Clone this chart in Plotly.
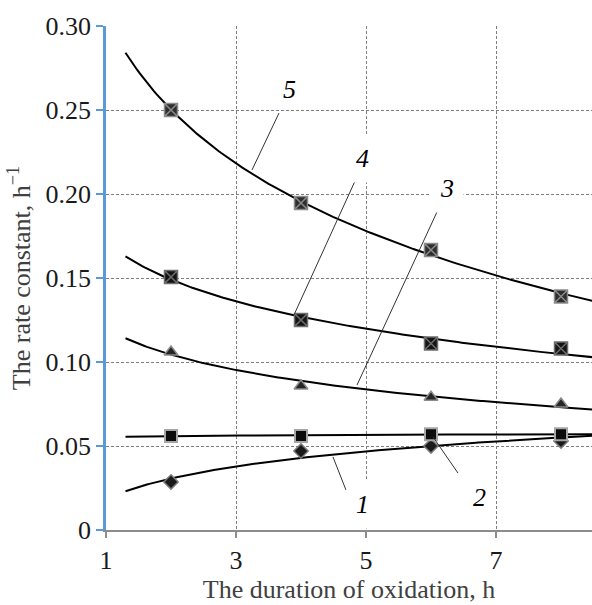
import numpy as np
import plotly.graph_objects as go

# ---- data ----
hours = [2, 4, 6, 8]
k_series1 = [0.0286, 0.0470, 0.0500, 0.0530]
k_series2 = [0.0560, 0.0560, 0.0570, 0.0570]
k_series3 = [0.1060, 0.0857, 0.0790, 0.0750]
k_series4 = [0.1506, 0.1250, 0.1110, 0.1080]
k_series5 = [0.2500, 0.1946, 0.1667, 0.1390]
series_names = ["1", "2", "3", "4", "5"]

x_tick_vals = [1, 3, 5, 7]
y_tick_vals = [0, 0.05, 0.10, 0.15, 0.20, 0.25, 0.30]
y_tick_text = ["0", "0.05", "0.10", "0.15", "0.20", "0.25", "0.30"]

# curve labels (label position, leader start, leader end) in data units
label_pos = {"5": (3.83, 0.262), "4": (4.95, 0.2214), "3": (6.25, 0.203),
             "1": (4.95, 0.0149), "2": (6.75, 0.0196)}
leader = {"5": ((3.662, 0.2482), (3.246, 0.2143)),
          "4": ((4.831, 0.2077), (3.892, 0.1280)),
          "3": ((6.092, 0.1893), (4.862, 0.0863)),
          "1": ((4.692, 0.0238), (4.492, 0.0435)),
          "2": ((6.415, 0.0339), (6.031, 0.0554))}

all_series = [k_series1, k_series2, k_series3, k_series4, k_series5]

styles = [
    dict(symbol="diamond", size=11, color="#1a1a1a", line=dict(color="#7a7a7a", width=1.5)),
    dict(symbol="square", size=12, color="#0d0d0d", line=dict(color="#a6a6a6", width=2)),
    dict(symbol="triangle-up", size=12, color="#262626", line=dict(color="#8c8c8c", width=1.5)),
    dict(symbol="square-x", size=13, color="#141414", line=dict(color="#6e6e6e", width=1.5)),
    dict(symbol="square-x", size=13, color="#2e2e2e", line=dict(color="#8c8c8c", width=1.5)),
]

FONT = "Liberation Serif"
fig = go.Figure()

# logarithmic trend lines (least-squares fit, as in the source)
x_fit = np.linspace(1.3, 8.6, 200)
for ys in all_series:
    b, a = np.polyfit(np.log(hours), ys, 1)
    fig.add_trace(go.Scatter(x=x_fit, y=a + b * np.log(x_fit), mode="lines",
                             line=dict(color="black", width=2), hoverinfo="skip"))

for ys, st, nm in zip(all_series, styles, series_names):
    fig.add_trace(go.Scatter(x=hours, y=ys, mode="markers", name=nm, marker=st))

for nm, ((x0, y0), (x1, y1)) in leader.items():
    fig.add_shape(type="line", x0=x0, y0=y0, x1=x1, y1=y1, xref="x", yref="y",
                  line=dict(color="#333333", width=1))

for nm, (lx, ly) in label_pos.items():
    fig.add_annotation(x=lx, y=ly, xref="x", yref="y", text=f"<i>{nm}</i>",
                       showarrow=False, font=dict(family=FONT, size=26, color="black"),
                       bgcolor="white" if nm != "5" else "rgba(0,0,0,0)", borderpad=9)

grid = dict(showgrid=True, gridcolor="#7f7f7f", gridwidth=1, griddash="3px,2px")

fig.update_xaxes(range=[1, 8.477], tickvals=x_tick_vals, ticks="outside", ticklen=6,
                 tickwidth=2, tickcolor="#8c8c8c", showline=True, linecolor="#8c8c8c",
                 linewidth=2, zeroline=False,
                 tickfont=dict(family=FONT, size=26, color="#1a1a1a"),
                 title=dict(text="The duration of oxidation, h", standoff=6,
                            font=dict(family=FONT, size=26, color="#404040")),
                 **grid)
fig.update_yaxes(range=[0, 0.30], tickvals=y_tick_vals, ticktext=y_tick_text,
                 ticks="outside", ticklen=7, tickwidth=2, tickcolor="#5b9bd5",
                 showline=True, linecolor="#5b9bd5", linewidth=2.5, zeroline=False,
                 tickfont=dict(family=FONT, size=26, color="#1a1a1a"),
                 title=dict(text="The rate constant, h<sup>−1</sup>", standoff=8,
                            font=dict(family=FONT, size=26, color="#404040")),
                 **grid)

fig.update_layout(width=592, height=605, showlegend=False,
                  margin=dict(l=106, r=0, t=26, b=75, autoexpand=False),
                  plot_bgcolor="white", paper_bgcolor="white")

fig.write_html("out.html")
